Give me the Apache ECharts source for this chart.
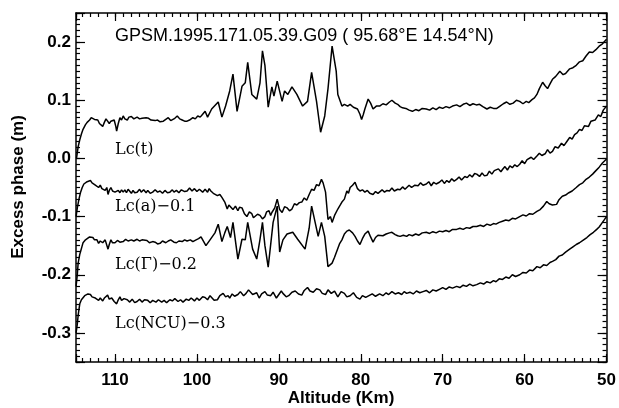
<!DOCTYPE html>
<html>
<head>
<meta charset="utf-8">
<script src="https://cdn.jsdelivr.net/npm/echarts@6/dist/echarts.min.js"></script>
<style>
html,body{margin:0;padding:0;background:#fff;}
#chart{width:619px;height:408px;}
</style>
</head>
<body>
<div id="chart"></div>
<script>
// ---- data (altitude km, excess phase m) ----
var xTicks = [50, 60, 70, 80, 90, 100, 110];
var yTicks = [-0.3, -0.2, -0.1, 0.0, 0.1, 0.2];
var titleText = 'GPSM.1995.171.05.39.G09 ( 95.68°E 14.54°N)';
var curveNames = ['Lc(t)', 'Lc(a)\u22120.1', 'Lc(\u0393)\u22120.2', 'Lc(NCU)\u22120.3'];

var lcT = [
[114.7,0.0],[114.5,0.02],[114.3,0.032],[114.1,0.042],[113.9,0.05],[113.6,0.058],[113.4,0.062],[113.1,0.066],
[112.9,0.07],[112.7,0.071],[112.5,0.067],[112.3,0.069],[112.1,0.066],[111.9,0.06],[111.7,0.058],[111.5,0.055],
[111.3,0.062],[111.1,0.068],[110.9,0.064],[110.7,0.06],[110.5,0.064],[110.3,0.061],[110.1,0.066],[109.9,0.055],
[109.8,0.047],[109.6,0.06],[109.4,0.07],[109.2,0.066],[109.0,0.073],[108.8,0.068],[108.5,0.066],[108.3,0.071],
[108.0,0.072],[107.7,0.068],[107.5,0.07],[107.3,0.071],[107.0,0.068],[106.7,0.069],[106.5,0.067],[106.2,0.07],
[105.9,0.069],[105.6,0.066],[105.4,0.067],[105.1,0.065],[104.8,0.066],[104.5,0.063],[104.1,0.064],[103.8,0.067],
[103.5,0.07],[103.2,0.065],[103.0,0.066],[102.7,0.069],[102.4,0.073],[102.1,0.068],[101.8,0.066],[101.5,0.064],
[101.2,0.064],[100.9,0.066],[100.5,0.07],[100.2,0.068],[99.9,0.073],[99.6,0.071],[99.3,0.076],[99.0,0.081],
[98.7,0.071],[98.2,0.085],[97.4,0.097],[96.95,0.071],[96.5,0.09],[96.0,0.116],[95.6,0.145],[95.1,0.081],
[94.5,0.124],[94.1,0.13],[93.8,0.165],[93.3,0.11],[92.7,0.102],[92.3,0.13],[92.0,0.185],[91.7,0.16],
[91.3,0.088],[90.85,0.123],[90.6,0.107],[90.2,0.133],[89.6,0.098],[89.3,0.116],[88.9,0.11],[88.4,0.123],
[87.8,0.11],[87.1,0.09],[86.5,0.098],[86.0,0.148],[85.4,0.098],[84.9,0.045],[84.4,0.073],[84.0,0.12],
[83.5,0.193],[83.0,0.15],[82.8,0.11],[82.3,0.09],[82.0,0.093],[81.6,0.09],[81.3,0.093],[80.9,0.088],
[80.4,0.085],[80.1,0.076],[79.9,0.067],[79.7,0.075],[79.5,0.085],[79.1,0.102],[78.8,0.095],[78.5,0.085],
[78.1,0.09],[77.7,0.09],[77.3,0.094],[76.9,0.092],[76.5,0.097],[76.2,0.10],[75.8,0.095],[75.5,0.093],
[75.2,0.089],[74.9,0.087],[74.5,0.086],[74.1,0.083],[73.7,0.081],[73.3,0.084],[72.9,0.082],[72.5,0.086],
[72.0,0.085],[71.6,0.083],[71.2,0.087],[70.8,0.084],[70.4,0.088],[70.0,0.086],[69.6,0.089],[69.2,0.087],
[68.8,0.09],[68.3,0.092],[67.9,0.089],[67.5,0.093],[67.1,0.095],[66.7,0.091],[66.3,0.094],[65.9,0.092],
[65.5,0.093],[65.1,0.089],[64.6,0.085],[64.2,0.088],[63.8,0.086],[63.4,0.086],[63.0,0.09],[62.6,0.094],
[62.2,0.097],[61.8,0.093],[61.4,0.095],[61.0,0.1],[60.6,0.098],[60.2,0.094],[59.8,0.098],[59.5,0.096],
[59.1,0.101],[58.8,0.104],[58.5,0.11],[58.2,0.12],[57.8,0.131],[57.5,0.125],[57.2,0.12],[56.9,0.128],
[56.6,0.136],[56.2,0.141],[55.7,0.15],[55.3,0.144],[55.0,0.146],[54.5,0.154],[54.1,0.156],[53.7,0.16],
[53.3,0.166],[52.9,0.168],[52.5,0.176],[52.1,0.183],[51.7,0.182],[51.3,0.187],[50.9,0.193],[50.5,0.197],[50.0,0.205]
];

var lcA = [
[114.75,-0.10],[114.6,-0.085],[114.4,-0.07],[114.2,-0.058],[114.0,-0.05],[113.8,-0.044],[113.6,-0.042],[113.4,-0.04],
[113.2,-0.043],[113.0,-0.038],[112.8,-0.042],[112.6,-0.039],[112.4,-0.046],[112.2,-0.045],[112.0,-0.05],[111.8,-0.046],
[111.6,-0.052],[111.4,-0.049],[111.2,-0.055],[111.0,-0.05],[110.85,-0.062],[110.7,-0.055],[110.5,-0.05],[110.3,-0.056],
[110.2,-0.053],[110.0,-0.058],[109.8,-0.06],[109.6,-0.055],[109.4,-0.059],[109.2,-0.054],[109.0,-0.058],[108.8,-0.054],
[108.6,-0.059],[108.4,-0.053],[108.2,-0.055],[108.0,-0.06],[107.8,-0.055],[107.6,-0.059],[107.3,-0.058],[107.0,-0.053],
[106.8,-0.058],[106.5,-0.054],[106.2,-0.059],[106.0,-0.055],[105.7,-0.06],[105.4,-0.058],[105.1,-0.054],[104.8,-0.058],
[104.5,-0.056],[104.2,-0.06],[103.9,-0.055],[103.6,-0.059],[103.3,-0.058],[103.0,-0.054],[102.8,-0.058],[102.5,-0.055],
[102.2,-0.059],[101.9,-0.054],[101.5,-0.057],[101.2,-0.056],[100.9,-0.051],[100.6,-0.056],[100.3,-0.052],[100.0,-0.057],
[99.7,-0.053],[99.3,-0.058],[99.0,-0.053],[98.7,-0.058],[98.5,-0.052],[98.3,-0.056],[98.0,-0.06],[97.8,-0.058],
[97.5,-0.064],[97.2,-0.062],[96.95,-0.067],[96.6,-0.075],[96.3,-0.087],[96.1,-0.08],[95.9,-0.079],[95.6,-0.088],
[95.3,-0.082],[95.0,-0.09],[94.8,-0.084],[94.5,-0.085],[94.2,-0.095],[93.9,-0.10],[93.6,-0.092],[93.3,-0.095],
[93.1,-0.102],[92.9,-0.105],[92.6,-0.096],[92.3,-0.098],[92.0,-0.104],[91.7,-0.10],[91.5,-0.092],[91.2,-0.09],
[91.0,-0.098],[90.85,-0.093],[90.5,-0.085],[90.2,-0.07],[89.9,-0.088],[89.6,-0.093],[89.3,-0.083],[89.0,-0.085],
[88.7,-0.09],[88.4,-0.087],[88.1,-0.078],[87.8,-0.08],[87.5,-0.076],[87.2,-0.075],[86.9,-0.068],[86.6,-0.072],
[86.3,-0.062],[86.0,-0.053],[85.7,-0.055],[85.4,-0.045],[85.1,-0.047],[84.8,-0.036],[84.6,-0.042],[84.5,-0.045],
[84.3,-0.058],[84.1,-0.09],[84.0,-0.105],[83.7,-0.1],[83.5,-0.11],[83.2,-0.098],[82.8,-0.087],[82.5,-0.08],
[82.3,-0.075],[82.0,-0.07],[81.7,-0.056],[81.5,-0.06],[81.3,-0.05],[81.0,-0.046],[80.7,-0.041],[80.4,-0.052],
[80.1,-0.056],[79.8,-0.054],[79.5,-0.058],[79.2,-0.055],[78.9,-0.06],[78.5,-0.062],[78.2,-0.057],[77.9,-0.06],
[77.7,-0.058],[77.4,-0.054],[77.1,-0.058],[76.8,-0.055],[76.5,-0.056],[76.2,-0.051],[75.9,-0.056],[75.5,-0.053],
[75.2,-0.054],[74.9,-0.049],[74.6,-0.053],[74.4,-0.05],[74.1,-0.046],[73.8,-0.05],[73.4,-0.046],[73.0,-0.047],
[72.7,-0.042],[72.4,-0.046],[72.0,-0.044],[71.7,-0.04],[71.4,-0.047],[71.1,-0.041],[70.8,-0.044],[70.4,-0.041],
[70.1,-0.037],[69.8,-0.043],[69.5,-0.038],[69.2,-0.041],[68.9,-0.035],[68.6,-0.039],[68.3,-0.036],[68.0,-0.032],
[67.7,-0.037],[67.3,-0.031],[67.0,-0.033],[66.7,-0.028],[66.4,-0.032],[66.1,-0.026],[65.85,-0.027],[65.5,-0.031],
[65.2,-0.025],[64.9,-0.03],[64.6,-0.029],[64.3,-0.022],[64.0,-0.027],[63.7,-0.021],[63.5,-0.024],[63.2,-0.018],
[62.9,-0.023],[62.7,-0.019],[62.4,-0.014],[62.1,-0.02],[61.8,-0.013],[61.5,-0.016],[61.2,-0.011],[60.9,-0.014],
[60.6,-0.01],[60.3,-0.004],[60.0,-0.009],[59.7,-0.002],[59.5,-0.004],[59.2,0.002],[58.9,-0.002],[58.5,0.004],
[58.2,0.009],[57.9,0.005],[57.5,0.008],[57.2,0.015],[56.9,0.009],[56.6,0.012],[56.3,0.02],[55.9,0.018],
[55.5,0.026],[55.2,0.022],[54.8,0.03],[54.5,0.036],[54.2,0.033],[53.9,0.041],[53.6,0.044],[53.3,0.05],
[53.0,0.048],[52.7,0.056],[52.5,0.058],[52.2,0.055],[51.9,0.064],[51.7,0.067],[51.4,0.066],[51.0,0.075],
[50.7,0.072],[50.4,0.083],[50.0,0.09]
];

var lcG = [
[114.75,-0.22],[114.6,-0.2],[114.5,-0.18],[114.3,-0.165],[114.2,-0.16],[114.0,-0.15],[113.9,-0.145],[113.6,-0.14],
[113.4,-0.138],[113.1,-0.135],[112.9,-0.138],[112.7,-0.136],[112.5,-0.14],[112.2,-0.14],[112.0,-0.146],[111.8,-0.142],
[111.5,-0.145],[111.2,-0.14],[111.0,-0.142],[110.85,-0.156],[110.7,-0.148],[110.5,-0.14],[110.3,-0.145],[110.0,-0.145],
[109.7,-0.141],[109.4,-0.144],[109.0,-0.143],[108.7,-0.139],[108.4,-0.142],[108.0,-0.14],[107.7,-0.142],[107.3,-0.139],
[107.0,-0.142],[106.7,-0.14],[106.5,-0.143],[106.1,-0.141],[105.8,-0.145],[105.4,-0.143],[105.1,-0.144],[104.8,-0.147],
[104.5,-0.146],[104.2,-0.142],[103.8,-0.145],[103.5,-0.142],[103.2,-0.14],[102.8,-0.144],[102.5,-0.145],[102.2,-0.142],
[101.8,-0.143],[101.5,-0.14],[101.2,-0.142],[100.8,-0.14],[100.5,-0.143],[100.1,-0.14],[99.8,-0.138],[99.5,-0.135],
[99.3,-0.134],[98.9,-0.15],[98.4,-0.14],[97.8,-0.128],[97.4,-0.113],[96.95,-0.143],[96.6,-0.128],[96.3,-0.117],
[95.9,-0.136],[95.6,-0.11],[95.0,-0.173],[94.5,-0.139],[94.1,-0.14],[93.8,-0.11],[93.2,-0.156],[92.7,-0.173],
[92.3,-0.139],[92.0,-0.11],[91.7,-0.15],[91.3,-0.187],[90.7,-0.11],[90.2,-0.082],[89.9,-0.161],[89.5,-0.14],
[89.0,-0.13],[88.3,-0.127],[87.7,-0.139],[86.8,-0.156],[86.3,-0.12],[86.0,-0.082],[85.2,-0.134],[84.8,-0.11],
[84.4,-0.134],[84.0,-0.186],[83.5,-0.18],[83.2,-0.17],[82.6,-0.147],[82.3,-0.14],[82.0,-0.13],[81.7,-0.125],
[81.4,-0.123],[81.0,-0.128],[80.7,-0.134],[80.4,-0.142],[80.1,-0.148],[79.8,-0.138],[79.5,-0.13],[79.1,-0.125],
[78.8,-0.135],[78.5,-0.144],[78.2,-0.136],[77.9,-0.132],[77.7,-0.131],[77.3,-0.133],[76.9,-0.13],[76.5,-0.128],
[76.2,-0.127],[75.8,-0.131],[75.5,-0.133],[75.2,-0.134],[74.8,-0.132],[74.4,-0.134],[74.1,-0.131],[73.7,-0.133],
[73.3,-0.13],[72.9,-0.132],[72.5,-0.128],[72.0,-0.127],[71.6,-0.129],[71.2,-0.126],[70.8,-0.128],[70.4,-0.125],
[70.0,-0.126],[69.6,-0.124],[69.2,-0.126],[68.8,-0.122],[68.3,-0.122],[67.9,-0.12],[67.5,-0.122],[67.1,-0.119],
[66.7,-0.12],[66.3,-0.117],[65.85,-0.117],[65.4,-0.115],[65.0,-0.117],[64.6,-0.113],[64.2,-0.115],[63.8,-0.112],
[63.5,-0.113],[63.1,-0.11],[62.7,-0.108],[62.3,-0.106],[61.9,-0.107],[61.5,-0.103],[61.1,-0.104],[60.6,-0.10],
[60.2,-0.097],[59.8,-0.099],[59.4,-0.095],[59.0,-0.096],[58.5,-0.091],[58.1,-0.088],[57.7,-0.082],[57.3,-0.074],
[57.0,-0.078],[56.6,-0.08],[56.1,-0.079],[55.8,-0.071],[55.4,-0.065],[55.0,-0.063],[54.6,-0.059],[54.2,-0.056],
[53.7,-0.05],[53.3,-0.045],[52.9,-0.042],[52.5,-0.036],[52.1,-0.032],[51.7,-0.027],[51.3,-0.021],[50.9,-0.015],
[50.5,-0.008],[50.0,-0.001]
];

var lcN = [
[114.75,-0.30],[114.6,-0.285],[114.5,-0.27],[114.3,-0.25],[114.1,-0.243],[113.9,-0.24],[113.7,-0.236],[113.5,-0.238],
[113.3,-0.233],[113.0,-0.234],[112.8,-0.238],[112.6,-0.235],[112.4,-0.24],[112.2,-0.238],[112.0,-0.244],[111.8,-0.24],
[111.5,-0.245],[111.3,-0.24],[111.1,-0.237],[110.9,-0.235],[110.7,-0.242],[110.4,-0.24],[110.1,-0.246],[109.8,-0.25],
[109.6,-0.243],[109.4,-0.238],[109.2,-0.244],[108.9,-0.241],[108.5,-0.243],[108.2,-0.247],[107.9,-0.242],[107.6,-0.248],
[107.3,-0.246],[107.0,-0.242],[106.7,-0.247],[106.4,-0.243],[106.0,-0.244],[105.7,-0.248],[105.4,-0.244],[105.0,-0.247],
[104.7,-0.243],[104.3,-0.247],[104.0,-0.244],[103.7,-0.248],[103.3,-0.243],[103.0,-0.245],[102.7,-0.241],[102.3,-0.246],
[102.0,-0.243],[101.7,-0.247],[101.3,-0.242],[101.0,-0.244],[100.7,-0.24],[100.3,-0.245],[100.0,-0.24],[99.7,-0.244],
[99.3,-0.238],[99.0,-0.239],[98.7,-0.243],[98.4,-0.236],[98.2,-0.237],[97.9,-0.244],[97.5,-0.243],[97.2,-0.236],
[96.8,-0.232],[96.5,-0.238],[96.2,-0.236],[96.0,-0.24],[95.7,-0.233],[95.4,-0.237],[95.0,-0.234],[94.7,-0.229],
[94.3,-0.236],[94.0,-0.232],[93.7,-0.226],[93.5,-0.228],[93.2,-0.234],[93.0,-0.236],[92.7,-0.231],[92.4,-0.24],
[92.1,-0.233],[91.7,-0.229],[91.4,-0.235],[91.0,-0.236],[90.7,-0.23],[90.3,-0.24],[90.0,-0.234],[89.7,-0.228],
[89.5,-0.232],[89.1,-0.238],[88.8,-0.236],[88.4,-0.23],[88.0,-0.228],[87.6,-0.233],[87.2,-0.235],[86.9,-0.227],
[86.5,-0.222],[86.2,-0.228],[85.8,-0.23],[85.4,-0.224],[85.0,-0.226],[84.7,-0.232],[84.3,-0.234],[84.0,-0.226],
[83.6,-0.232],[83.2,-0.228],[82.8,-0.238],[82.4,-0.229],[82.0,-0.232],[81.7,-0.238],[81.3,-0.236],[80.9,-0.231],
[80.5,-0.239],[80.1,-0.242],[79.8,-0.236],[79.4,-0.239],[79.0,-0.236],[78.6,-0.233],[78.2,-0.237],[77.7,-0.233],
[77.3,-0.236],[76.9,-0.231],[76.6,-0.234],[76.2,-0.229],[75.8,-0.233],[75.4,-0.231],[75.0,-0.234],[74.7,-0.229],
[74.4,-0.232],[74.0,-0.23],[73.6,-0.233],[73.2,-0.228],[72.8,-0.231],[72.4,-0.229],[72.0,-0.227],[71.6,-0.231],
[71.2,-0.226],[70.8,-0.228],[70.4,-0.225],[70.0,-0.222],[69.6,-0.225],[69.2,-0.221],[68.8,-0.223],[68.3,-0.22],
[67.9,-0.222],[67.5,-0.218],[67.1,-0.22],[66.7,-0.216],[66.3,-0.219],[65.85,-0.217],[65.4,-0.214],[65.0,-0.216],
[64.6,-0.212],[64.2,-0.214],[63.8,-0.21],[63.5,-0.212],[63.1,-0.207],[62.7,-0.208],[62.3,-0.204],[61.9,-0.206],
[61.5,-0.2],[61.1,-0.203],[60.6,-0.2],[60.2,-0.196],[59.8,-0.197],[59.4,-0.192],[59.0,-0.193],[58.5,-0.186],
[58.1,-0.188],[57.7,-0.183],[57.3,-0.184],[56.9,-0.179],[56.6,-0.177],[56.2,-0.174],[55.8,-0.168],[55.4,-0.166],
[55.0,-0.161],[54.5,-0.156],[54.1,-0.152],[53.7,-0.148],[53.3,-0.145],[52.8,-0.14],[52.4,-0.136],[52.0,-0.131],
[51.6,-0.127],[51.2,-0.122],[50.9,-0.118],[50.5,-0.11],[50.0,-0.10]
];

// ---- chart ----
var X_MIN = 50, X_MAX = 114.76, Y_MIN = -0.35, Y_MAX = 0.25;
var chart = echarts.init(document.getElementById('chart'), null, {renderer: 'canvas'});
var LBL_FONT = 'Liberation Sans, Arial, sans-serif';

function xAx(pos, interval, len, labels, line) {
  return {
    type: 'value', position: pos, min: X_MIN, max: X_MAX, inverse: true, interval: interval,
    axisLine: {show: line, onZero: false, lineStyle: {color: '#000', width: 1.5}},
    axisTick: {show: true, inside: true, length: len, lineStyle: {color: '#000', width: 1.2}},
    axisLabel: {show: labels, margin: 10, color: '#000', fontSize: 17, fontWeight: 'bold', fontFamily: LBL_FONT,
      showMinLabel: true, showMaxLabel: true,
      formatter: function (v) {
        var r = Math.round(v);
        return (Math.abs(v - r) < 1e-6 && xTicks.indexOf(r) >= 0) ? String(r) : '';
      }},
    splitLine: {show: false}
  };
}
function yAx(pos, interval, len, labels, line) {
  var a = {
    type: 'value', position: pos, min: Y_MIN, max: Y_MAX,
    axisLine: {show: line, onZero: false, lineStyle: {color: '#000', width: 1.5}},
    axisTick: {show: true, inside: true, length: len, lineStyle: {color: '#000', width: 1.2}},
    axisLabel: {show: labels, margin: 5, color: '#000', fontSize: 17, fontWeight: 'bold', fontFamily: LBL_FONT,
      showMinLabel: true, showMaxLabel: true,
      formatter: function (v) {
        for (var i = 0; i < yTicks.length; i++) { if (Math.abs(v - yTicks[i]) < 1e-6) return yTicks[i].toFixed(1); }
        return '';
      }},
    splitLine: {show: false}
  };
  if (interval) a.interval = interval; else a.splitNumber = 6;
  return a;
}

var lineStyle = {color: '#000', width: 1.5};
function ser(d) {
  return {type: 'line', data: d, xAxisIndex: 0, yAxisIndex: 0, showSymbol: false, symbol: 'none',
    lineStyle: lineStyle, animation: false, silent: true};
}

var SERIF = 'DejaVu Serif, serif';
function lbl(t, x, y) {
  return {type: 'text', x: x, y: y, silent: true,
    style: {text: t, fill: '#000', font: '16px ' + SERIF, align: 'left', verticalAlign: 'middle',
      textAlign: 'left', textVerticalAlign: 'middle'}};
}

chart.setOption({
  animation: false,
  backgroundColor: '#fff',
  grid: {left: 76, right: 12, top: 13, bottom: 46, containLabel: false},
  xAxis: [
    xAx('bottom', 10, 8, true, true),
    xAx('bottom', 1, 4, false, false),
    xAx('top', 10, 8, false, true),
    xAx('top', 1, 4, false, false)
  ],
  yAxis: [
    yAx('left', null, 9, true, true),
    yAx('left', 0.01, 4, false, false),
    yAx('right', null, 9, false, true),
    yAx('right', 0.01, 4, false, false)
  ],
  series: [ser(lcT), ser(lcA), ser(lcG), ser(lcN)],
  graphic: [
    {type: 'text', x: 115, y: 36, silent: true,
      style: {text: titleText, fill: '#000', font: '18px Liberation Sans, Arial, sans-serif',
        align: 'left', verticalAlign: 'middle', textAlign: 'left', textVerticalAlign: 'middle'}},
    lbl(curveNames[0], 115, 150),
    lbl(curveNames[1], 115, 207),
    lbl(curveNames[2], 115, 265),
    lbl(curveNames[3], 115, 324),
    {type: 'text', x: 341, y: 398, silent: true,
      style: {text: 'Altitude (Km)', fill: '#000', font: 'bold 17px Liberation Sans, Arial, sans-serif',
        align: 'center', verticalAlign: 'middle', textAlign: 'center', textVerticalAlign: 'middle'}},
    {type: 'text', x: 18, y: 187, rotation: Math.PI / 2, silent: true,
      style: {text: 'Excess phase (m)', fill: '#000', font: 'bold 17px Liberation Sans, Arial, sans-serif',
        align: 'center', verticalAlign: 'middle', textAlign: 'center', textVerticalAlign: 'middle'}}
  ]
});
</script>
</body>
</html>
